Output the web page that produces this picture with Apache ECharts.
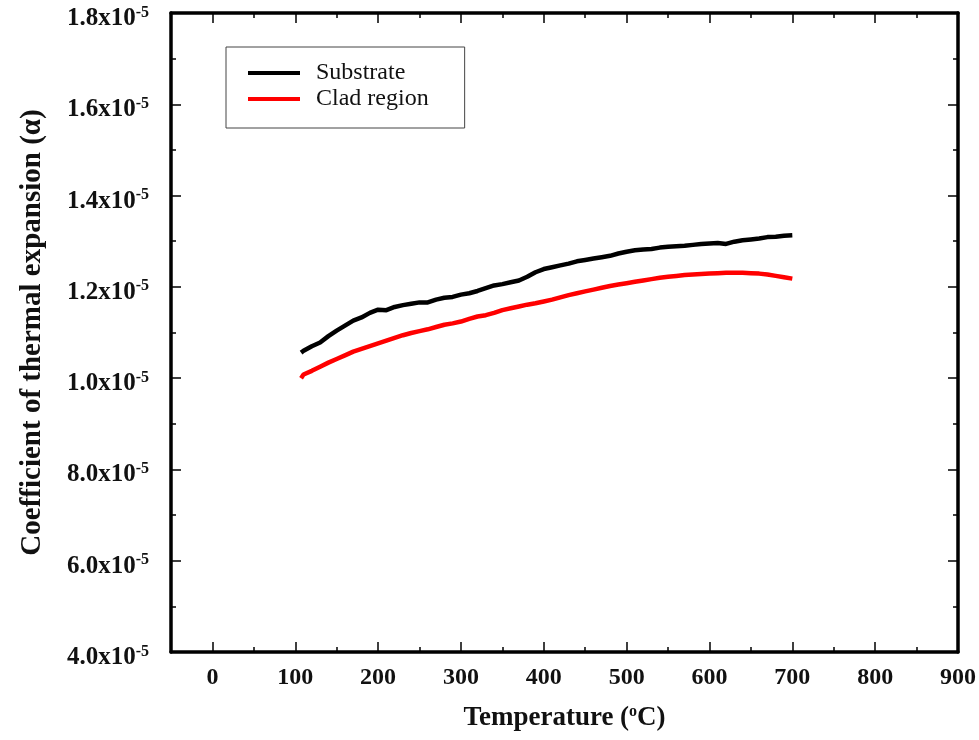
<!DOCTYPE html>
<html><head><meta charset="utf-8">
<script src="https://cdn.jsdelivr.net/npm/echarts@6/dist/echarts.min.js"></script>
<style>html,body{margin:0;padding:0;background:#fff}#c{width:979px;height:740px}</style>
</head><body><div id="c"></div>
<script>
var temps = [107,110,120,130,140,150,160,170,180,190,200,210,220,230,240,250,260,270,280,290,300,310,320,330,340,350,360,370,380,390,400,410,420,430,440,450,460,470,480,490,500,510,520,530,540,550,560,570,580,590,600,610,620,630,640,650,660,670,680,690,700];
var substrate = [1.056,1.060,1.070,1.078,1.092,1.104,1.115,1.126,1.133,1.143,1.150,1.149,1.156,1.160,1.163,1.166,1.166,1.172,1.176,1.178,1.183,1.186,1.191,1.197,1.203,1.206,1.210,1.214,1.222,1.232,1.239,1.243,1.247,1.251,1.256,1.259,1.262,1.265,1.268,1.273,1.277,1.280,1.282,1.283,1.286,1.288,1.289,1.290,1.292,1.294,1.295,1.296,1.294,1.299,1.302,1.304,1.306,1.309,1.310,1.312,1.313];
var clad = [1.000,1.008,1.016,1.025,1.034,1.042,1.050,1.058,1.064,1.070,1.076,1.082,1.088,1.094,1.099,1.103,1.107,1.112,1.117,1.120,1.124,1.130,1.135,1.138,1.143,1.149,1.153,1.157,1.161,1.164,1.168,1.172,1.177,1.182,1.186,1.190,1.194,1.198,1.202,1.205,1.208,1.211,1.214,1.217,1.220,1.222,1.224,1.226,1.227,1.228,1.229,1.230,1.231,1.231,1.231,1.230,1.229,1.227,1.224,1.221,1.218];
var xMajorTicks = [0,100,200,300,400,500,600,700,800,900];
var xMinorTicks = [50,150,250,350,450,550,650,750,850];
var yTickValues = [0.4,0.6,0.8,1.0,1.2,1.4,1.6,1.8];
var yTickLabels = ['4.0x10','6.0x10','8.0x10','1.0x10','1.2x10','1.4x10','1.6x10','1.8x10'];
var yExponent = '-5';
var seriesNames = ['Substrate','Clad region'];

var font = 'Liberation Serif';
function pairs(xs, ys){ return xs.map(function(x,i){return [x, ys[i]];}); }
function yLabel(v){
  for (var i=0;i<yTickValues.length;i++){
    if (Math.abs(yTickValues[i]-v)<1e-6) return '{b|'+yTickLabels[i]+'}{s|'+yExponent+'}';
  }
  return '';
}
var axisLine = {show:true, onZero:false, lineStyle:{color:'#000', width:3.5}};
var tickStyle = {color:'#000', width:1.5};
var chart = echarts.init(document.getElementById('c'));
chart.setOption({
  animation:false,
  backgroundColor:'#fff',
  grid:{left:171, right:21, top:13, bottom:88, containLabel:false},
  legend:{
    orient:'vertical', left:226, top:47,
    padding:[14,36,17,22], itemGap:2,
    itemWidth:52, itemHeight:4, itemTextGap:16,
    icon:'rect',
    borderColor:'#444', borderWidth:1,
    textStyle:{fontFamily:font, fontSize:24, color:'#111', padding:[0,0,0,11]},
    data:seriesNames
  },
  xAxis:[
    {type:'value', min:-50, max:900, position:'bottom',
     name:'{t|Temperature (}{s|o}{t|C)}', nameLocation:'middle', nameGap:52,
     nameTextStyle:{rich:{t:{fontFamily:font,fontSize:27,fontWeight:'bold',color:'#111'},
                          s:{fontFamily:font,fontSize:16,fontWeight:'bold',color:'#111',verticalAlign:'top',padding:[0,0,12,0]}}},
     axisLine:axisLine, splitLine:{show:false},
     axisTick:{show:true, inside:true, length:10, lineStyle:tickStyle, customValues:xMajorTicks},
     axisLabel:{show:true, customValues:xMajorTicks, margin:14, fontFamily:font, fontSize:24, fontWeight:'bold', color:'#111',
                formatter:function(v){return String(v);}}},
    {type:'value', min:-50, max:900, position:'bottom',
     axisLine:{show:false, onZero:false}, splitLine:{show:false}, axisLabel:{show:false},
     axisTick:{show:true, inside:true, length:5, lineStyle:tickStyle, customValues:xMinorTicks}},
    {type:'value', min:-50, max:900, position:'top',
     axisLine:axisLine, splitLine:{show:false}, axisLabel:{show:false},
     axisTick:{show:true, inside:true, length:10, lineStyle:tickStyle, customValues:xMajorTicks}},
    {type:'value', min:-50, max:900, position:'top',
     axisLine:{show:false, onZero:false}, splitLine:{show:false}, axisLabel:{show:false},
     axisTick:{show:true, inside:true, length:5, lineStyle:tickStyle, customValues:xMinorTicks}}
  ],
  yAxis:[
    {type:'value', min:0.4, max:1.8, interval:0.2, position:'left',
     name:'Coefficient of thermal expansion (α)', nameLocation:'middle', nameGap:124, nameRotate:90,
     nameTextStyle:{fontFamily:font, fontSize:29, fontWeight:'bold', color:'#111'},
     axisLine:axisLine, splitLine:{show:false},
     axisTick:{show:true, inside:true, length:10, lineStyle:tickStyle},
     minorTick:{show:true, splitNumber:2, length:5, lineStyle:tickStyle},
     axisLabel:{margin:22, formatter:yLabel, padding:[11,0,0,0],
       rich:{b:{fontFamily:font,fontSize:25,fontWeight:'bold',color:'#111'},
             s:{fontFamily:font,fontSize:16,fontWeight:'bold',color:'#111',verticalAlign:'top',padding:[0,0,12,0]}}}},
    {type:'value', min:0.4, max:1.8, interval:0.2, position:'right',
     axisLine:axisLine, splitLine:{show:false}, axisLabel:{show:false},
     axisTick:{show:true, inside:true, length:10, lineStyle:tickStyle},
     minorTick:{show:true, splitNumber:2, length:5, lineStyle:tickStyle}}
  ],
  series:[
    {name:seriesNames[0], type:'line', xAxisIndex:0, yAxisIndex:0, data:pairs(temps, substrate),
     showSymbol:false, symbol:'none', lineStyle:{color:'#000', width:4.5}, itemStyle:{color:'#000'}},
    {name:seriesNames[1], type:'line', xAxisIndex:0, yAxisIndex:0, data:pairs(temps, clad),
     showSymbol:false, symbol:'none', lineStyle:{color:'#ff0000', width:4.5}, itemStyle:{color:'#ff0000'}}
  ]
});
</script></body></html>
